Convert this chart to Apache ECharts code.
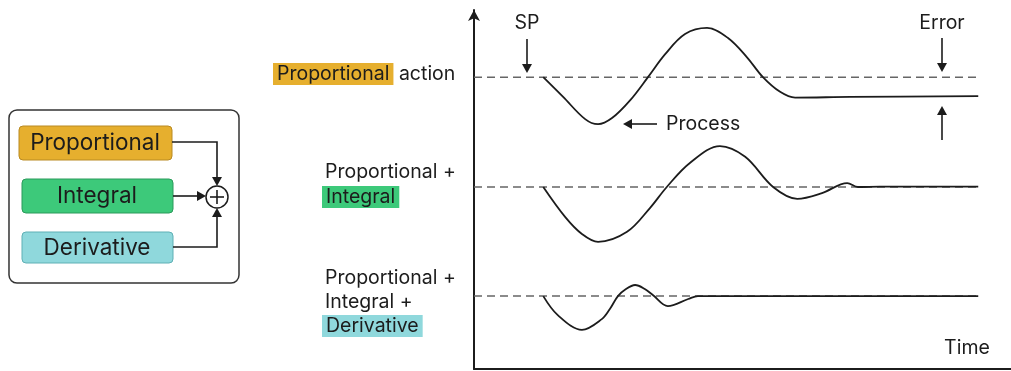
<!DOCTYPE html>
<html>
<head>
<meta charset="utf-8">
<script src="https://cdn.jsdelivr.net/npm/echarts@6/dist/echarts.min.js"></script>
<style>
  html, body { margin: 0; padding: 0; background: #fff; }
  #chart { width: 1011px; height: 371px; }
</style>
</head>
<body>
<div id="chart"></div>
<script>
// time axis 0..100, level axis 0..100 (arbitrary units)
const setpoints = [81.3, 50.7, 20.3]
const spEnd = 93.9

// P only: settles with an offset below SP
const procP = [
  [12.9, 81.3], [16.6, 75.8], [20.7, 69.6], [23.1, 68.2], [25.7, 69.9], [29.1, 74.9],
  [32.4, 81.3], [35.6, 87.7], [39.3, 93.3], [43.4, 95.0], [47.3, 92.2], [50.8, 86.9],
  [53.8, 81.3], [57.0, 77.2], [59.8, 75.6], [70.0, 75.8], [93.9, 76.0]
]

// P + I
const procPI = [
  [12.9, 50.7], [17.0, 42.3], [20.1, 37.6], [23.1, 35.4], [28.5, 38.2], [32.8, 44.9],
  [35.9, 50.7], [40.2, 57.4], [45.8, 62.1], [50.5, 59.1], [55.7, 50.7], [60.2, 47.4],
  [64.8, 49.0], [69.5, 51.8], [71.5, 50.7], [75.6, 50.8], [93.9, 50.8]
]

// P + I + D
const procPID = [
  [12.9, 20.3], [15.6, 15.0], [20.1, 10.9], [23.8, 13.9], [25.3, 16.7], [26.8, 20.3],
  [28.3, 22.3], [30.0, 23.4], [31.8, 22.3], [33.3, 20.6], [36.1, 17.5], [39.9, 19.5],
  [41.7, 20.3], [93.9, 20.3]
]

const FONT = 'Inter, "Noto Sans", sans-serif'
const INK = '#1c1c1c'
const C_P = '#E6AF2E'
const C_I = '#3DC97A'
const C_D = '#8FD8DC'
const FS = 19.5

function txt (x, y, text, size, align, rich) {
  return {
    type: 'text', x: x, y: y, silent: true,
    style: {
      text: text, fill: INK, font: size + 'px ' + FONT,
      textAlign: align || 'left', textVerticalAlign: 'middle', rich: rich
    }
  }
}
function hl (color) {
  return { backgroundColor: color, padding: [1, 4, 1, 4], fill: INK, font: FS + 'px ' + FONT }
}
function seg (pts) {
  return { type: 'polyline', silent: true, shape: { points: pts }, style: { stroke: INK, lineWidth: 1.6, fill: null } }
}
// arrow head, tip at (x, y)
function head (x, y, dir, s) {
  s = s || 5
  const L = s * 1.8
  let pts
  if (dir === 'down') pts = [[x, y], [x - s, y - L], [x + s, y - L]]
  if (dir === 'up') pts = [[x, y], [x - s, y + L], [x + s, y + L]]
  if (dir === 'left') pts = [[x, y], [x + L, y - s], [x + L, y + s]]
  if (dir === 'right') pts = [[x, y], [x - L, y - s], [x - L, y + s]]
  return { type: 'polygon', silent: true, shape: { points: pts }, style: { fill: INK } }
}
function box (x, y, w, h, color, border) {
  return { type: 'rect', silent: true, shape: { x: x, y: y, width: w, height: h, r: 4 }, style: { fill: color, stroke: border, lineWidth: 1 } }
}

const graphic = [
  // block diagram
  { type: 'rect', silent: true, shape: { x: 9, y: 110, width: 230, height: 173, r: 8 }, style: { fill: '#fff', stroke: '#333', lineWidth: 1.5 } },
  box(19, 126, 153, 34, C_P, '#b98a22'),
  box(22, 179, 151, 34, C_I, '#2a9a5a'),
  box(22, 232, 151, 31, C_D, '#5fb0b5'),
  txt(95, 143, 'Proportional', 22.5, 'center'),
  txt(97, 196, 'Integral', 22.5, 'center'),
  txt(97, 248, 'Derivative', 22.5, 'center'),
  seg([[172, 142], [217, 142], [217, 178]]), head(217, 186, 'down'),
  seg([[173, 196], [198, 196]]), head(206, 196, 'right'),
  seg([[173, 247], [217, 247], [217, 216]]), head(217, 208, 'up'),
  { type: 'circle', silent: true, shape: { cx: 217, cy: 197, r: 11 }, style: { fill: '#fff', stroke: INK, lineWidth: 1.5 } },
  seg([[210, 197], [224, 197]]), seg([[217, 190], [217, 204]]),

  // row labels
  txt(273, 74, '{p|Proportional} action', FS, 'left', { p: hl(C_P) }),
  txt(325, 172, 'Proportional +', FS),
  txt(322, 197, '{g|Integral}', FS, 'left', { g: hl(C_I) }),
  txt(325, 278, 'Proportional +', FS),
  txt(325, 302, 'Integral +', FS),
  txt(322, 326, '{d|Derivative}', FS, 'left', { d: hl(C_D) }),

  // annotations
  txt(527, 23, 'SP', FS, 'center'),
  seg([[527, 39], [527, 66]]), head(527, 73, 'down'),
  txt(942, 23, 'Error', FS, 'center'),
  seg([[942, 38], [942, 65]]), head(942, 72, 'down'),
  seg([[942, 140], [942, 113]]), head(942, 106, 'up'),
  seg([[657, 124], [630, 124]]), head(623, 124, 'left'),
  txt(666, 124, 'Process', FS),
  txt(967, 348, 'Time', FS, 'center')
]

const spSeries = setpoints.map(v => ({
  type: 'line',
  data: [[0, v], [spEnd, v]],
  showSymbol: false,
  silent: true,
  lineStyle: { color: '#666', width: 1.5, type: [8, 5] },
  z: 1
}))

const procSeries = [procP, procPI, procPID].map(d => ({
  type: 'line',
  data: d,
  smooth: 0.35,
  showSymbol: false,
  silent: true,
  lineStyle: { color: INK, width: 1.8 },
  z: 2
}))

const chart = echarts.init(document.getElementById('chart'))
chart.setOption({
  animation: false,
  grid: { left: 474, right: 0, top: 10, bottom: 2 },
  xAxis: {
    type: 'value', min: 0, max: 100,
    axisLine: { show: true, lineStyle: { color: INK, width: 2 } },
    axisTick: { show: false }, axisLabel: { show: false }, splitLine: { show: false }
  },
  yAxis: {
    type: 'value', min: 0, max: 100,
    axisLine: { show: true, symbol: ['none', 'arrow'], symbolSize: [9, 11], lineStyle: { color: INK, width: 2 } },
    axisTick: { show: false }, axisLabel: { show: false }, splitLine: { show: false }
  },
  series: spSeries.concat(procSeries),
  graphic: graphic
})
</script>
</body>
</html>
